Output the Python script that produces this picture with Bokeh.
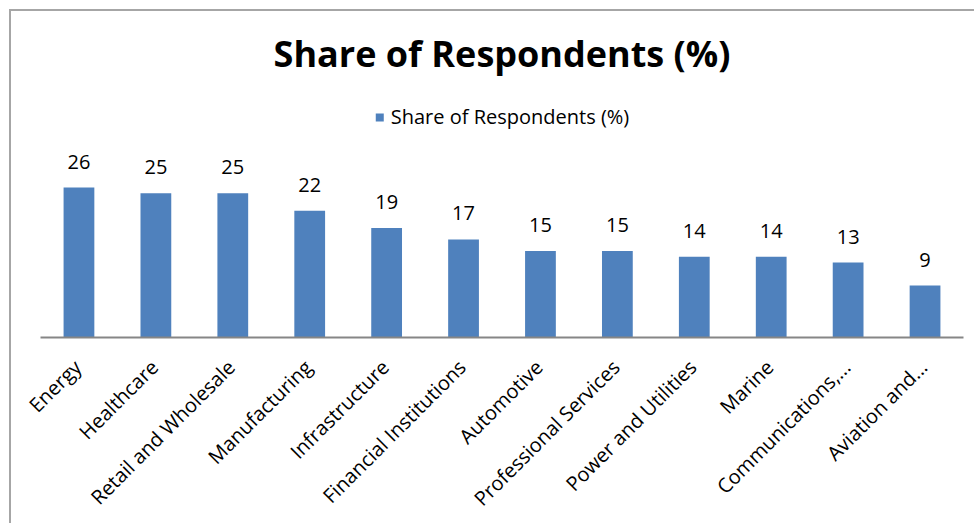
import math
from bokeh.plotting import figure
from bokeh.models import (ColumnDataSource, Legend, LegendItem, Range1d,
                          LinearAxis, FixedTicker)
from bokeh.core.properties import value
from bokeh.embed import file_html
from bokeh.resources import INLINE

categories = ["Energy", "Healthcare", "Retail and Wholesale", "Manufacturing",
              "Infrastructure", "Financial Institutions", "Automotive",
              "Professional Services", "Power and Utilities", "Marine",
              "Communications,...", "Aviation and..."]
shares = [26, 25, 25, 22, 19, 17, 15, 15, 14, 14, 13, 9]
series_name = "Share of Respondents (%)"
title_text = "Share of Respondents (%)"

n = len(categories)
idx = list(range(n))
src = ColumnDataSource(dict(x=idx, cat=categories, val=shares,
                            lab=[str(v) for v in shares]))

FONT = "Open Sans"
label_shift = -0.02  # label anchor shift (in category widths)

p = figure(x_range=Range1d(-0.5, n - 0.5),
           y_range=Range1d(0, 44.4),
           width=965, height=514, output_backend="svg", toolbar_location=None,
           min_border_left=29, min_border_right=13, min_border_top=70,
           min_border_bottom=188,
           styles={"margin-left": "9px", "margin-top": "9px",
                   "border-left": "2px solid #a6a6a6",
                   "border-top": "2px solid #a6a6a6"})
p.extra_x_ranges = {"lab": Range1d(-0.5 - label_shift, n - 0.5 - label_shift)}

p.title.text = title_text
p.title.align = "center"
p.title.text_font = FONT
p.title.text_font_size = "36px"
p.title.text_font_style = "bold"
p.title.text_color = "#000000"
p.title.standoff = 7

p.outline_line_color = None
p.background_fill_color = "white"
p.border_fill_color = "white"
p.xgrid.grid_line_color = None
p.ygrid.grid_line_color = None
p.yaxis.visible = False
p.xaxis.visible = False

bars = p.vbar(x="x", top="val", width=0.4, source=src,
              fill_color="#4F81BD", line_color=None)

p.text(x="x", y="val", text="lab", source=src,
       text_align="center", text_baseline="alphabetic", y_offset=-26,
       text_font=value(FONT), text_font_size="20px", text_color="#000000")

ax = LinearAxis(x_range_name="lab",
                ticker=FixedTicker(ticks=idx, minor_ticks=[]),
                major_label_overrides={i: c for i, c in zip(idx, categories)})
ax.axis_line_color = "#868686"
ax.axis_line_width = 2
ax.major_tick_line_color = None
ax.minor_tick_line_color = None
ax.major_tick_out = 0
ax.major_tick_in = 0
ax.minor_tick_out = 0
ax.minor_tick_in = 0
ax.major_label_orientation = math.pi / 4
ax.major_label_standoff = 26
ax.major_label_text_font = FONT
ax.major_label_text_font_size = "20px"
ax.major_label_text_color = "#000000"
p.add_layout(ax, "below")

legend = Legend(items=[LegendItem(label=series_name, renderers=[bars])],
                location="top_center", orientation="horizontal",
                border_line_color=None, background_fill_alpha=0,
                glyph_width=10, glyph_height=10, label_standoff=7,
                label_text_font=FONT, label_text_font_size="20px",
                label_text_color="#000000", margin=22, padding=2)
p.add_layout(legend)

open("out.html", "w").write(file_html(p, INLINE))
